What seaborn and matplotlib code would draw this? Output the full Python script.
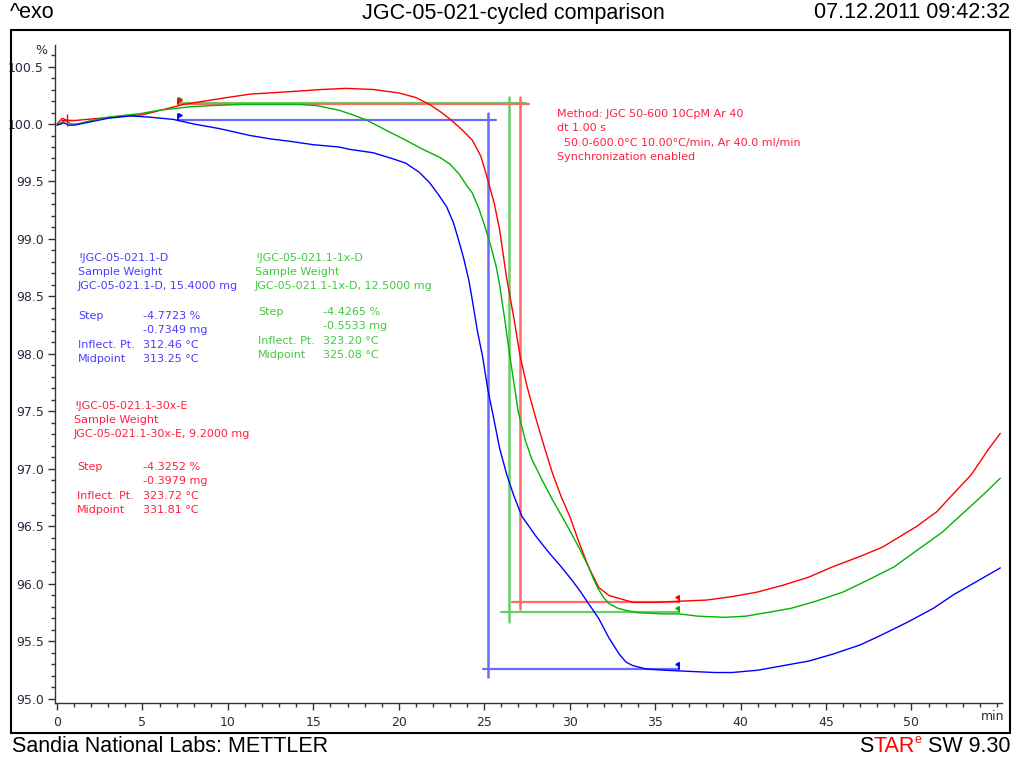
import numpy as np
import pandas as pd
import matplotlib
matplotlib.use("Agg")
import matplotlib.pyplot as plt
from matplotlib.patches import Rectangle
from matplotlib.ticker import MultipleLocator, FormatStrFormatter
import seaborn as sns

# ---- TGA curves: time (min) vs. weight (%) ----
red_t = [0.0, 0.3, 0.6, 1.0, 2.5, 5.0, 7.4, 9.5, 11.3, 13.5, 15.5, 16.9, 18.5, 20.0,
         21.0, 21.8, 22.5, 23.1, 23.7, 24.3, 24.8, 25.2, 25.6, 25.9, 26.3, 26.75, 27.1,
         27.5, 28.0, 28.5, 29.0, 29.5, 30.0, 30.55, 31.1, 31.7, 32.3, 33.0, 33.7, 35.0,
         36.4, 38.0, 39.5, 41.0, 42.5, 44.0, 45.4, 47.0, 48.3, 50.3, 51.5, 52.3, 53.5,
         54.5, 55.2]
red_w = [100.00, 100.05, 100.03, 100.03, 100.05, 100.08, 100.17, 100.22, 100.26, 100.28,
         100.30, 100.31, 100.30, 100.27, 100.23, 100.17, 100.10, 100.03, 99.95, 99.86,
         99.72, 99.52, 99.30, 99.08, 98.67, 98.30, 97.98, 97.72, 97.45, 97.20, 96.96,
         96.76, 96.59, 96.36, 96.15, 95.97, 95.90, 95.87, 95.84, 95.84, 95.85, 95.86,
         95.89, 95.93, 95.99, 96.06, 96.15, 96.24, 96.32, 96.50, 96.63, 96.76, 96.95,
         97.17, 97.31]

green_t = [0.0, 0.3, 0.5, 0.8, 1.2, 2.0, 3.0, 4.85, 6.0, 7.8, 9.0, 10.7, 12.5, 14.2,
           15.2, 16.5, 17.3, 18.1, 19.2, 20.4, 21.4, 22.4, 23.0, 23.5, 24.0, 24.3, 24.7,
           25.1, 25.4, 25.7, 25.9, 26.2, 26.5, 27.0, 27.4, 27.8, 28.4, 29.0, 29.5, 30.1,
           30.6, 31.1, 31.4, 31.7, 32.0, 32.3, 32.8, 33.3, 34.0, 35.5, 36.4, 37.5, 39.1,
           40.3, 41.5, 43.0, 44.4, 46.0, 47.4, 49.0, 50.3, 51.8, 53.2, 54.3, 55.2]
green_w = [99.99, 100.02, 100.03, 100.00, 100.00, 100.03, 100.06, 100.09, 100.12, 100.15,
           100.16, 100.17, 100.17, 100.17, 100.16, 100.12, 100.08, 100.035, 99.95, 99.86,
           99.78, 99.71, 99.65, 99.57, 99.46, 99.40, 99.26, 99.08, 98.93, 98.76, 98.60,
           98.30, 97.98, 97.49, 97.25, 97.08, 96.90, 96.73, 96.60, 96.44, 96.30, 96.15,
           96.04, 95.95, 95.88, 95.83, 95.79, 95.77, 95.75, 95.74, 95.74, 95.72, 95.71,
           95.72, 95.75, 95.79, 95.85, 95.93, 96.03, 96.15, 96.29, 96.45, 96.64, 96.79,
           96.92]

blue_t = [0.0, 0.2, 0.4, 0.7, 1.0, 2.0, 3.0, 4.3, 5.4, 6.8, 8.0, 9.5, 10.7, 11.3, 12.5,
          13.6, 15.0, 16.5, 17.1, 18.5, 19.6, 20.4, 21.2, 21.8, 22.3, 22.8, 23.2, 23.5,
          23.8, 24.1, 24.3, 24.6, 24.9, 25.2, 25.5, 25.9, 26.3, 26.7, 27.2, 28.0, 28.8,
          29.5, 30.15, 30.6, 31.1, 31.7, 32.3, 32.9, 33.3, 33.7, 34.5, 35.6, 37.0, 38.5,
          39.5, 41.0, 42.5, 44.0, 45.4, 47.0, 48.3, 49.8, 51.3, 52.5, 53.8, 55.2]
blue_w = [99.99, 100.00, 100.01, 99.99, 99.99, 100.02, 100.05, 100.07, 100.06, 100.04,
          100.00, 99.96, 99.92, 99.90, 99.87, 99.85, 99.82, 99.80, 99.78, 99.75, 99.70,
          99.66, 99.58, 99.49, 99.39, 99.28, 99.14, 98.99, 98.83, 98.64, 98.47, 98.20,
          97.98, 97.70, 97.48, 97.18, 96.96, 96.78, 96.59, 96.42, 96.27, 96.15, 96.03,
          95.94, 95.83, 95.70, 95.53, 95.39, 95.32, 95.29, 95.26, 95.25, 95.24, 95.23,
          95.23, 95.25, 95.29, 95.33, 95.39, 95.47, 95.56, 95.67, 95.79, 95.91, 96.02,
          96.14]

# ---- step evaluation (baseline levels, step position, limits) ----
samples = ["D", "1x-D", "30x-E"]
step_top = [100.035, 100.18, 100.17]
step_pct = [4.7723, 4.4265, 4.3252]
step_x = [25.23, 26.46, 27.10]
top_line_end = [25.70, 27.45, 27.63]
bottom_line_start = [24.90, 26.00, 26.60]
vert_top = [100.096, 100.235, 100.235]
vert_extra = [0.07, 0.08, 0.06]
eval_start = 7.07
eval_end = 36.4

# colours
C_BLUE, C_GREEN, C_RED = "#0000ff", "#00b400", "#ff0000"
L_BLUE, L_GREEN, L_RED = "#6a6aff", "#66d066", "#ff6a6a"
T_BLUE, T_GREEN, T_RED = "#4a3cff", "#44c844", "#ff2040"

W, H = 1017, 759
sns.set_theme(style="white")
plt.rcParams["font.family"] = ["DejaVu Sans"]
fig = plt.figure(figsize=(W / 100, H / 100), dpi=100)
fig.patch.set_facecolor("white")


def fx(x):
    return x / W


def fy(y):
    return 1 - y / H


ax = fig.add_axes([fx(55), fy(703), fx(1002) - fx(55), fy(45) - fy(703)])
ax.set_facecolor("white")

# step evaluation lines
line_cols = [L_BLUE, L_GREEN, L_RED]
flag_cols = [C_BLUE, C_GREEN, C_RED]
for i in range(3):
    top = step_top[i]
    bot = top - step_pct[i]
    c = line_cols[i]
    ax.plot([eval_start, top_line_end[i]], [top, top], color=c, lw=1.6, zorder=2)
    ax.plot([bottom_line_start[i], eval_end], [bot, bot], color=c, lw=1.6, zorder=2)
    ax.plot([step_x[i], step_x[i]], [vert_top[i], bot - vert_extra[i]], color=c, lw=1.8, zorder=2)

# measured curves
frames = []
for name, t, w in [("30x-E", red_t, red_w), ("1x-D", green_t, green_w), ("D", blue_t, blue_w)]:
    frames.append(pd.DataFrame({"time": t, "weight": w, "sample": name}))
df = pd.concat(frames, ignore_index=True)
sns.lineplot(data=df, x="time", y="weight", hue="sample",
             palette={"30x-E": C_RED, "1x-D": C_GREEN, "D": C_BLUE},
             estimator=None, sort=False, lw=1.0, legend=False, ax=ax, zorder=3)

# evaluation limit flags
for i in range(3):
    top = step_top[i]
    bot = top - step_pct[i]
    c = flag_cols[i]
    ax.plot([eval_start, eval_start], [top, top + 0.05], color=c, lw=1.3, zorder=4)
    ax.plot([eval_start + 0.1], [top + 0.04], marker=">", ms=2.5, color=c, zorder=4)
    ax.plot([eval_end, eval_end], [bot, bot + 0.05], color=c, lw=1.3, zorder=4)
    ax.plot([eval_end - 0.1], [bot + 0.04], marker="<", ms=2.5, color=c, zorder=4)

ax.plot([0.6], [100.035], marker="+", ms=9, mew=1.0, color=C_RED, zorder=4)

ax.set_xlim(-0.12, 55.3)
ax.set_ylim(94.965, 100.687)
ax.xaxis.set_minor_locator(MultipleLocator(1))
ax.yaxis.set_major_locator(MultipleLocator(0.5))
ax.yaxis.set_minor_locator(MultipleLocator(0.1))
ax.yaxis.set_major_formatter(FormatStrFormatter("%.1f"))
ax.set_xticks([t for t in range(0, 55, 5)])
ax.tick_params(axis="both", which="major", direction="out", length=5, width=1,
               color="#333333", labelsize=9, labelcolor="#2a2a40", pad=3)
ax.tick_params(axis="both", which="minor", direction="out", length=3, width=1,
               color="#333333")
ax.tick_params(axis="x", which="major", pad=4)
ax.tick_params(left=True, bottom=True, which="both")
for s in ["top", "right"]:
    ax.spines[s].set_visible(False)
for s in ["left", "bottom"]:
    ax.spines[s].set_color("#333333")
    ax.spines[s].set_linewidth(1.0)
ax.set_xlabel("")
ax.set_ylabel("")
ax.grid(False)

# axis unit labels
fig.text(fx(41), fy(50), "%", fontsize=9, color="#2a2a40", ha="center", va="center")
fig.text(fx(993), fy(717), "min", fontsize=9, color="#2a2a40", ha="center", va="center")

# page frame
fig.patches.append(Rectangle((fx(11), fy(733)), fx(1010) - fx(11), fy(30) - fy(733),
                             transform=fig.transFigure, fill=False, ec="black", lw=1.5))

# header and footer
hfont = dict(family="Liberation Sans", fontsize=15.5, color="black", va="center")
fig.text(fx(10), fy(13), "^exo", ha="left", **hfont)
fig.text(fx(513), fy(13), "JGC-05-021-cycled comparison", ha="center", **hfont)
fig.text(fx(1010), fy(13), "07.12.2011 09:42:32", ha="right", **hfont)
fig.text(fx(12), fy(746), "Sandia National Labs: METTLER", ha="left", **hfont)

# STARe SW 9.30 logo text, assembled right to left
fig.canvas.draw()
renderer = fig.canvas.get_renderer()
xr = 1010
t1 = fig.text(fx(xr), fy(746), " SW 9.30", ha="right", **hfont)
xr -= t1.get_window_extent(renderer).width
t2 = fig.text(fx(xr), fy(740), "e", ha="right", family="Liberation Sans", fontsize=9,
              color="#ff0000", va="center")
xr -= t2.get_window_extent(renderer).width
t3 = fig.text(fx(xr), fy(746), "TAR", ha="right", family="Liberation Sans", fontsize=15.5,
              color="#ff0000", va="center")
xr -= t3.get_window_extent(renderer).width
fig.text(fx(xr), fy(746), "S", ha="right", **hfont)

# method box
afont = dict(fontsize=8, va="center", ha="left")
method = ["Method: JGC 50-600 10CpM Ar 40", "dt 1.00 s",
          "  50.0-600.0°C 10.00°C/min, Ar 40.0 ml/min", "Synchronization enabled"]
for k, line in enumerate(method):
    fig.text(fx(557), fy(114 + 14.3 * k), line, color=T_RED, **afont)


def result_block(x0, y0, ystep, xlab, xval, color, name, weight, pct, mg, inflect, mid):
    fig.text(fx(x0), fy(y0), "!" + name, color=color, **afont)
    fig.text(fx(x0), fy(y0 + 14), "Sample Weight", color=color, **afont)
    fig.text(fx(x0), fy(y0 + 28), f"{name}, {weight}", color=color, **afont)
    rows = [("Step", pct), ("", mg), ("Inflect. Pt.", inflect), ("Midpoint", mid)]
    for k, (lab, val) in enumerate(rows):
        yy = ystep + 14.4 * k
        if lab:
            fig.text(fx(xlab), fy(yy), lab, color=color, **afont)
        fig.text(fx(xval), fy(yy), val, color=color, **afont)


result_block(78, 258, 316, 78, 143, T_BLUE, "JGC-05-021.1-D", "15.4000 mg",
             "-4.7723 %", "-0.7349 mg", "312.46 °C", "313.25 °C")
result_block(255, 258, 312, 258, 323, T_GREEN, "JGC-05-021.1-1x-D", "12.5000 mg",
             "-4.4265 %", "-0.5533 mg", "323.20 °C", "325.08 °C")
result_block(74, 406, 467, 77, 143, T_RED, "JGC-05-021.1-30x-E", "9.2000 mg",
             "-4.3252 %", "-0.3979 mg", "323.72 °C", "331.81 °C")

fig.savefig("out.png", dpi=100, facecolor="white")
